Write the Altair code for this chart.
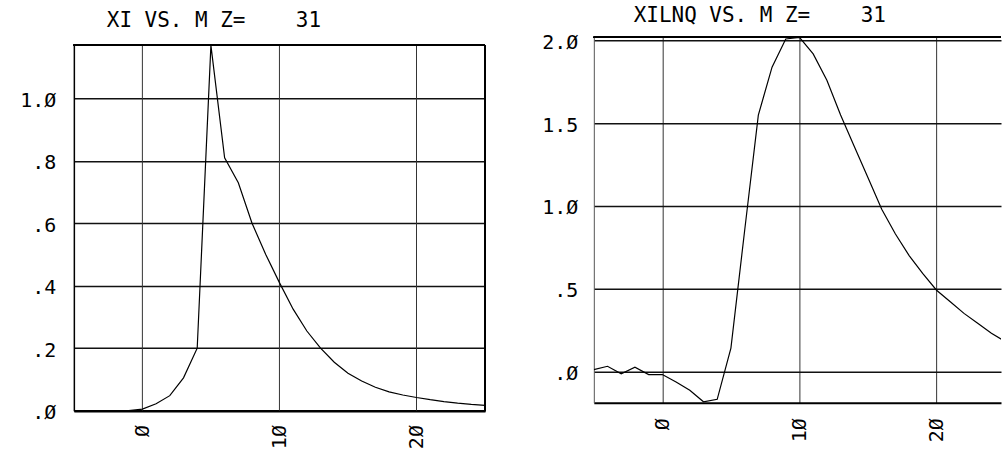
import altair as alt
import pandas as pd

# Mass number M (shared abscissa of both panels)
M = list(range(-5, 26))

# XI as a function of M
XI = [0.0, 0.0, 0.0, 0.0, 0.0, 0.005, 0.022, 0.048, 0.105, 0.2,
      1.17, 0.81, 0.73, 0.6, 0.5, 0.41, 0.325, 0.255, 0.2, 0.155,
      0.12, 0.095, 0.075, 0.06, 0.05, 0.042, 0.035, 0.029, 0.024, 0.02,
      0.017]

# XILNQ as a function of M
XILNQ = [0.01, 0.03, -0.015, 0.025, -0.02, -0.02, -0.065, -0.115, -0.185, -0.17,
         0.14, 0.85, 1.55, 1.84, 2.01, 2.02, 1.92, 1.76, 1.55, 1.36,
         1.17, 0.98, 0.83, 0.7, 0.59, 0.49, 0.42, 0.35, 0.29, 0.23,
         0.18]

X_TICKS = [0, 10, 20]
XI_TICKS = [0.0, 0.2, 0.4, 0.6, 0.8, 1.0]
XILNQ_TICKS = [0.0, 0.5, 1.0, 1.5, 2.0]

NBSP = "\u00a0"
TITLE_XI = "XI VS. M Z=" + NBSP * 4 + "31"
TITLE_XILNQ = "XILNQ VS. M Z=" + NBSP * 4 + "31"

FONT = "DejaVu Sans Mono"
H = 366          # plot height of both panels
DROP = 8         # left frame sits a little lower on the sheet

# plotter-style labels: leading zero dropped, zeros drawn slashed
Y_LABEL = ("replace(replace(format(datum.value, '.1f'), regexp('^0'), ''), "
           "regexp('0', 'g'), '\u00d8')")
X_LABEL = "replace(format(datum.value, 'd'), regexp('0', 'g'), '\u00d8')"

df = pd.DataFrame({"M": M, "XI": XI, "XILNQ": XILNQ})
grid_df = pd.DataFrame({"M": X_TICKS})


def x_axis(domain_width, pad, grid):
    return alt.Axis(values=X_TICKS, labelExpr=X_LABEL, labelAngle=270,
                    labelPadding=pad, ticks=False, tickSize=0, grid=grid,
                    gridColor="#333333", gridWidth=1, domain=True,
                    domainColor="black", domainWidth=domain_width, title=None,
                    labelOverlap=False, labelFont=FONT, labelFontSize=20,
                    labelColor="black")


def y_axis(values, pad, domain_color, domain_width):
    return alt.Axis(values=values, labelExpr=Y_LABEL, labelBaseline="middle",
                    labelOffset=2, labelPadding=pad, ticks=False, tickSize=0,
                    grid=True, gridColor="#111111", gridWidth=1.5, domain=True,
                    domainColor=domain_color, domainWidth=domain_width,
                    title=None, labelOverlap=False, labelFont=FONT,
                    labelFontSize=20, labelColor="black")


def title(text, dx, offset):
    return alt.Title(text=text, anchor="start", frame="group", dx=dx,
                     offset=offset, font=FONT, fontSize=21, fontWeight="normal",
                     baseline="alphabetic", color="black")


# Left panel: XI, framed on all four sides
XI_MIN, XI_MAX = 0, 1.17
XI_X_MIN, XI_X_MAX = -5, 25
x_left = alt.X("M:Q", scale=alt.Scale(domain=[XI_X_MIN, XI_X_MAX], nice=False, zero=False),
               axis=x_axis(2.5, 14, False))
y_left = alt.Y("XI:Q",
               scale=alt.Scale(domain=[XI_MIN, XI_MAX], nice=False, zero=False,
                               range=[H + DROP, DROP]),
               axis=y_axis(XI_TICKS, 18, "black", 1.5))

xi_vgrid = alt.Chart(grid_df).mark_rule(color="#333333", strokeWidth=1).encode(
    x=x_left, y=alt.datum(XI_MIN), y2=alt.datum(XI_MAX),
)
xi_line = alt.Chart(df).mark_line(color="black", strokeWidth=1.2, clip=True).encode(
    x=x_left, y=y_left,
)
xi_top = alt.Chart(df).mark_rule(color="black", strokeWidth=1.5).encode(
    y=alt.datum(XI_MAX)
)
xi_right = alt.Chart(df).mark_rule(color="black", strokeWidth=1.5).encode(
    x=alt.datum(XI_X_MAX), y=alt.datum(XI_MIN), y2=alt.datum(XI_MAX),
)
xi_chart = alt.layer(xi_vgrid, xi_line, xi_top, xi_right).properties(
    width=412, height=H + DROP,
    title=title(TITLE_XI, 33, -11),
    view=alt.ViewBackground(strokeOpacity=0),
)

# Right panel: XILNQ (runs past the right edge, so no right border)
XILNQ_MIN, XILNQ_MAX = -0.19, 2.02
xilnq_line = alt.Chart(df).mark_line(color="black", strokeWidth=1.2, clip=True).encode(
    x=alt.X("M:Q", scale=alt.Scale(domain=[-5, 24.7], nice=False, zero=False),
            axis=x_axis(2, 15, True)),
    y=alt.Y("XILNQ:Q",
            scale=alt.Scale(domain=[XILNQ_MIN, XILNQ_MAX], nice=False, zero=False),
            axis=y_axis(XILNQ_TICKS, 16, "#555555", 1)),
)
xilnq_top = alt.Chart(df).mark_rule(color="black", strokeWidth=1.5).encode(
    y=alt.datum(XILNQ_MAX)
)
xilnq_chart = alt.layer(xilnq_line, xilnq_top).properties(
    width=408, height=H,
    title=title(TITLE_XILNQ, 40, -10),
    view=alt.ViewBackground(strokeOpacity=0),
)

chart = alt.hconcat(xi_chart, xilnq_chart, spacing=109, bounds="flush").properties(
    padding={"left": 19, "top": 4, "right": 0, "bottom": 0},
    background="white",
)

chart.save("out.html", embed_options={"renderer": "svg", "actions": False})
